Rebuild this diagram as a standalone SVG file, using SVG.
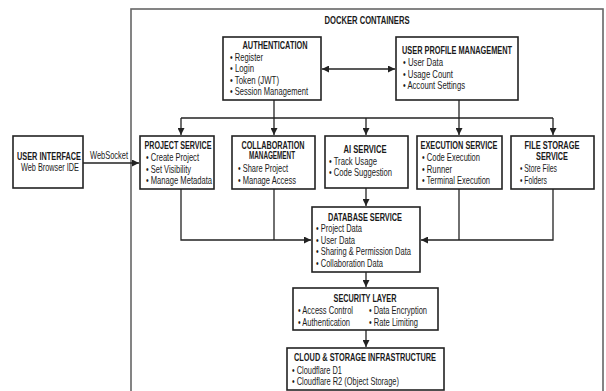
<svg xmlns="http://www.w3.org/2000/svg" width="606" height="391" viewBox="0 0 606 391">
<style>
.box{fill:#fff;stroke:#222;stroke-width:1.6}
.ctr{fill:#fff;stroke:#666;stroke-width:1.6}
.t{font-family:"Liberation Sans Narrow","Liberation Sans",Arial,sans-serif;font-size:10.5px;font-weight:bold;fill:#1a1a1a}
.i{font-family:"Liberation Sans Narrow","Liberation Sans",Arial,sans-serif;font-size:10.5px;fill:#1a1a1a}
.c{stroke:#222;stroke-width:1.3;fill:none}
</style>
<defs>
<marker id="ah" viewBox="0 0 8 8" refX="8" refY="4" markerWidth="7" markerHeight="7" markerUnits="userSpaceOnUse" orient="auto-start-reverse">
<path d="M0,0 L8,4 L0,8 z" fill="#222"/>
</marker>
</defs>
<rect width="606" height="391" fill="#fff"/>
<g id="docker">
<rect class="ctr" x="131" y="9" width="472" height="390"/>
<text class="t" x="367" y="24" text-anchor="middle" textLength="85" lengthAdjust="spacingAndGlyphs">DOCKER CONTAINERS</text>
</g>
<g id="connectors">
<line class="c" x1="83" y1="163" x2="139" y2="163" marker-end="url(#ah)"/>
<line class="c" x1="322" y1="69" x2="395" y2="69" marker-start="url(#ah)" marker-end="url(#ah)"/>
<line class="c" x1="274" y1="100" x2="274" y2="118"/>
<line class="c" x1="459" y1="100" x2="459" y2="118"/>
<line class="c" x1="181" y1="118" x2="553" y2="118"/>
<line class="c" x1="181" y1="118" x2="181" y2="135" marker-end="url(#ah)"/>
<line class="c" x1="274" y1="118" x2="274" y2="135" marker-end="url(#ah)"/>
<line class="c" x1="366" y1="118" x2="366" y2="135" marker-end="url(#ah)"/>
<line class="c" x1="459" y1="118" x2="459" y2="135" marker-end="url(#ah)"/>
<line class="c" x1="553" y1="118" x2="553" y2="135" marker-end="url(#ah)"/>
<polyline class="c" points="181,189 181,240 311,240" marker-end="url(#ah)"/>
<line class="c" x1="274" y1="189" x2="274" y2="240"/>
<polyline class="c" points="553,189 553,240 421,240" marker-end="url(#ah)"/>
<line class="c" x1="459" y1="189" x2="459" y2="240"/>
<line class="c" x1="366" y1="188" x2="366" y2="206" marker-end="url(#ah)"/>
<line class="c" x1="366" y1="272" x2="366" y2="287" marker-end="url(#ah)"/>
<line class="c" x1="366" y1="330" x2="366" y2="347" marker-end="url(#ah)"/>
<text class="i" transform="translate(90,158.5) scale(0.708,1)" x="0" y="0" textLength="53.7" lengthAdjust="spacingAndGlyphs">WebSocket</text>
</g>
<g id="user-interface">
<rect class="box" x="13" y="136" width="70" height="52"/>
<text class="t" transform="translate(49,159.5) scale(0.695,1)" x="0" y="0" text-anchor="middle" textLength="92" lengthAdjust="spacingAndGlyphs">USER INTERFACE</text>
<text class="i" x="50" y="171" text-anchor="middle" textLength="58" lengthAdjust="spacingAndGlyphs">Web Browser IDE</text>
</g>
<g id="authentication">
<rect class="box" x="223" y="37" width="98" height="63"/>
<text class="t" x="275" y="49" text-anchor="middle" textLength="65" lengthAdjust="spacingAndGlyphs">AUTHENTICATION</text>
<text class="i" x="230" y="60.5" textLength="33" lengthAdjust="spacingAndGlyphs">• Register</text>
<text class="i" x="230" y="72" textLength="24" lengthAdjust="spacingAndGlyphs">• Login</text>
<text class="i" x="230" y="83.5" textLength="49" lengthAdjust="spacingAndGlyphs">• Token (JWT)</text>
<text class="i" x="230" y="95" textLength="78" lengthAdjust="spacingAndGlyphs">• Session Management</text>
</g>
<g id="user-profile">
<rect class="box" x="396" y="37" width="122" height="63"/>
<text class="t" x="457" y="54" text-anchor="middle" textLength="110" lengthAdjust="spacingAndGlyphs">USER PROFILE MANAGEMENT</text>
<text class="i" x="403" y="66" textLength="40" lengthAdjust="spacingAndGlyphs">• User Data</text>
<text class="i" x="403" y="77.5" textLength="50" lengthAdjust="spacingAndGlyphs">• Usage Count</text>
<text class="i" x="403" y="89" textLength="62" lengthAdjust="spacingAndGlyphs">• Account Settings</text>
</g>
<g id="project-service">
<rect class="box" x="140" y="136" width="74" height="53"/>
<text class="t" x="178" y="148.5" text-anchor="middle" textLength="67" lengthAdjust="spacingAndGlyphs">PROJECT SERVICE</text>
<text class="i" x="146" y="161" textLength="53" lengthAdjust="spacingAndGlyphs">• Create Project</text>
<text class="i" x="146" y="172.5" textLength="45" lengthAdjust="spacingAndGlyphs">• Set Visibility</text>
<text class="i" x="146" y="184" textLength="66" lengthAdjust="spacingAndGlyphs">• Manage Metadata</text>
</g>
<g id="collaboration">
<rect class="box" x="232" y="136" width="83" height="53"/>
<text class="t" x="273" y="148.5" text-anchor="middle" textLength="63" lengthAdjust="spacingAndGlyphs">COLLABORATION</text>
<text class="t" x="272" y="159" text-anchor="middle" textLength="46" lengthAdjust="spacingAndGlyphs">MANAGEMENT</text>
<text class="i" x="238" y="172" textLength="50" lengthAdjust="spacingAndGlyphs">• Share Project</text>
<text class="i" x="238" y="183.5" textLength="58" lengthAdjust="spacingAndGlyphs">• Manage Access</text>
</g>
<g id="ai-service">
<rect class="box" x="325" y="136" width="83" height="52"/>
<text class="t" x="365" y="152.5" text-anchor="middle" textLength="43" lengthAdjust="spacingAndGlyphs">AI SERVICE</text>
<text class="i" x="329" y="164.5" textLength="48" lengthAdjust="spacingAndGlyphs">• Track Usage</text>
<text class="i" x="329" y="176" textLength="63" lengthAdjust="spacingAndGlyphs">• Code Suggestion</text>
</g>
<g id="execution-service">
<rect class="box" x="417" y="136" width="85" height="53"/>
<text class="t" x="459" y="148.5" text-anchor="middle" textLength="77" lengthAdjust="spacingAndGlyphs">EXECUTION SERVICE</text>
<text class="i" x="422" y="161" textLength="58" lengthAdjust="spacingAndGlyphs">• Code Execution</text>
<text class="i" x="422" y="172.5" textLength="30" lengthAdjust="spacingAndGlyphs">• Runner</text>
<text class="i" x="422" y="184" textLength="68" lengthAdjust="spacingAndGlyphs">• Terminal Execution</text>
</g>
<g id="file-storage">
<rect class="box" x="511" y="136" width="83" height="53"/>
<text class="t" x="552" y="148.5" text-anchor="middle" textLength="55" lengthAdjust="spacingAndGlyphs">FILE STORAGE</text>
<text class="t" x="552" y="159.5" text-anchor="middle" textLength="32" lengthAdjust="spacingAndGlyphs">SERVICE</text>
<text class="i" x="520" y="172" textLength="37" lengthAdjust="spacingAndGlyphs">• Store Files</text>
<text class="i" x="520" y="183.5" textLength="27" lengthAdjust="spacingAndGlyphs">• Folders</text>
</g>
<g id="database-service">
<rect class="box" x="312" y="207" width="108" height="65"/>
<text class="t" x="365" y="220.5" text-anchor="middle" textLength="74" lengthAdjust="spacingAndGlyphs">DATABASE SERVICE</text>
<text class="i" x="316" y="232" textLength="46" lengthAdjust="spacingAndGlyphs">• Project Data</text>
<text class="i" x="316" y="243.5" textLength="39" lengthAdjust="spacingAndGlyphs">• User Data</text>
<text class="i" x="316" y="255" textLength="95" lengthAdjust="spacingAndGlyphs">• Sharing &amp; Permission Data</text>
<text class="i" x="316" y="266.5" textLength="67" lengthAdjust="spacingAndGlyphs">• Collaboration Data</text>
</g>
<g id="security-layer">
<rect class="box" x="293" y="288" width="145" height="42"/>
<text class="t" x="365" y="302" text-anchor="middle" textLength="63" lengthAdjust="spacingAndGlyphs">SECURITY LAYER</text>
<text class="i" x="298" y="314" textLength="55" lengthAdjust="spacingAndGlyphs">• Access Control</text>
<text class="i" x="298" y="325.5" textLength="52" lengthAdjust="spacingAndGlyphs">• Authentication</text>
<text class="i" x="369" y="314" textLength="58" lengthAdjust="spacingAndGlyphs">• Data Encryption</text>
<text class="i" x="369" y="325.5" textLength="49" lengthAdjust="spacingAndGlyphs">• Rate Limiting</text>
</g>
<g id="cloud-storage">
<rect class="box" x="287" y="348" width="157" height="42"/>
<text class="t" x="365" y="361" text-anchor="middle" textLength="142" lengthAdjust="spacingAndGlyphs">CLOUD &amp; STORAGE INFRASTRUCTURE</text>
<text class="i" x="292" y="373.5" textLength="50" lengthAdjust="spacingAndGlyphs">• Cloudflare D1</text>
<text class="i" x="292" y="385" textLength="107" lengthAdjust="spacingAndGlyphs">• Cloudflare R2 (Object Storage)</text>
</g>
</svg>
